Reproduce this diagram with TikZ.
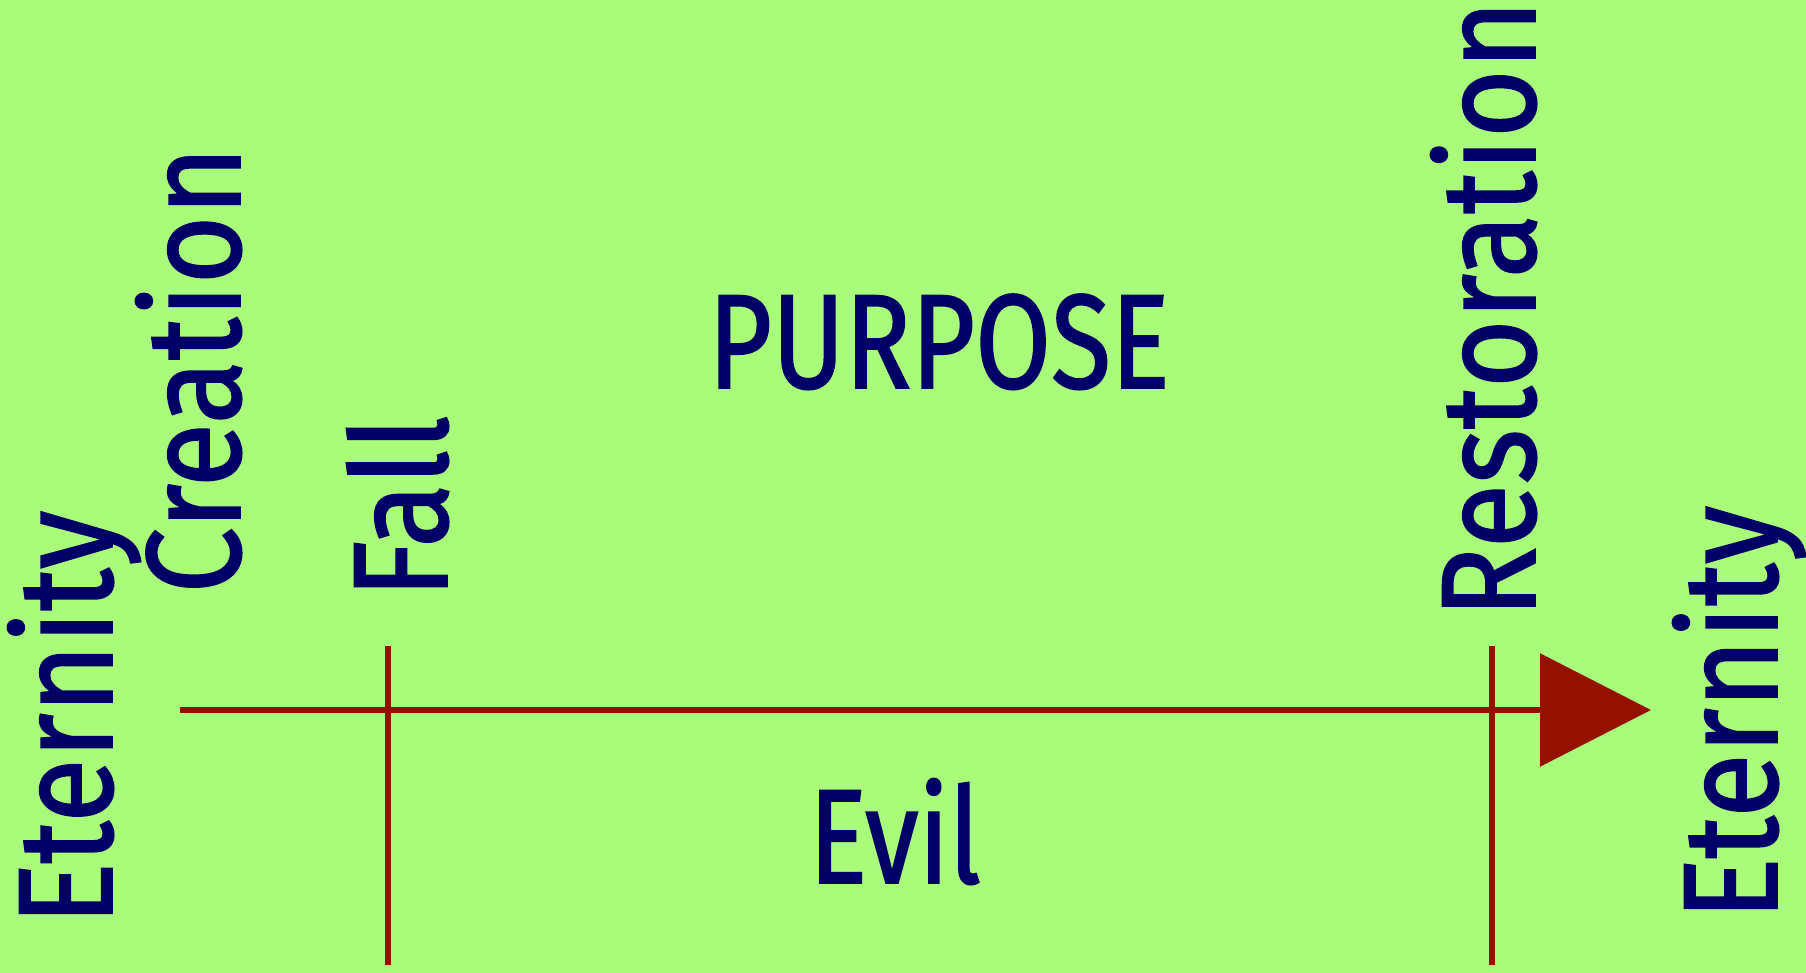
\documentclass[tikz,border=0pt]{standalone}
\usepackage{fontspec}
\setmainfont{Fira Sans}
\newfontfamily\wordfont{Fira Sans}[FakeBold=1.4]
\usepackage{xcolor}
\usepackage{tikz}
\usetikzlibrary{arrows.meta, positioning}

\definecolor{bggreen}{RGB}{168,252,122}
\definecolor{ink}{RGB}{0,0,102}
\definecolor{timeline}{RGB}{148,17,0}

\tikzset{
  word/.style={ink, inner sep=0pt, xscale=#1, font=\wordfont\fontsize{67}{78}\selectfont},
  word/.default=0.82,
  upword/.style={rotate=90, word=0.88, anchor=base},
  tline/.style={timeline, line width=3pt}
}

\begin{document}
\begin{tikzpicture}[x=0.5pt, y=-0.5pt]
% Background
\fill[bggreen] (0,0) rectangle (1806,973);
\useasboundingbox (0,0) rectangle (1806,973);

% Epochs
\node[upword] (eternityL) at (112,718) {Eternity};
\node[upword] (creation) at (240,370) {Creation};
\node[upword] (fall) at (447,507) {Fall};
\node[upword] (restoration) at (1535,309) {Restoration};
\node[upword] (eternityR) at (1777,713) {Eternity};

\node[word, anchor=base] (purpose) at (939,388) {PURPOSE};
\node[word=0.81, anchor=base] (evil) at (895,883) {Evil};

% Time line
\coordinate (start) at (180,710);
\coordinate (tip) at (1651,710);
\coordinate (fallTop) at (388,646);
\coordinate (fallBot) at (388,965);
\coordinate (restTop) at (1492,646);
\coordinate (restBot) at (1492,965);

\draw[tline] (fallTop) -- (fallBot);
\draw[tline] (restTop) -- (restBot);
\draw[tline, -{Triangle[length=55.5pt, width=56pt]}] (start) -- (tip);
\end{tikzpicture}
\end{document}
